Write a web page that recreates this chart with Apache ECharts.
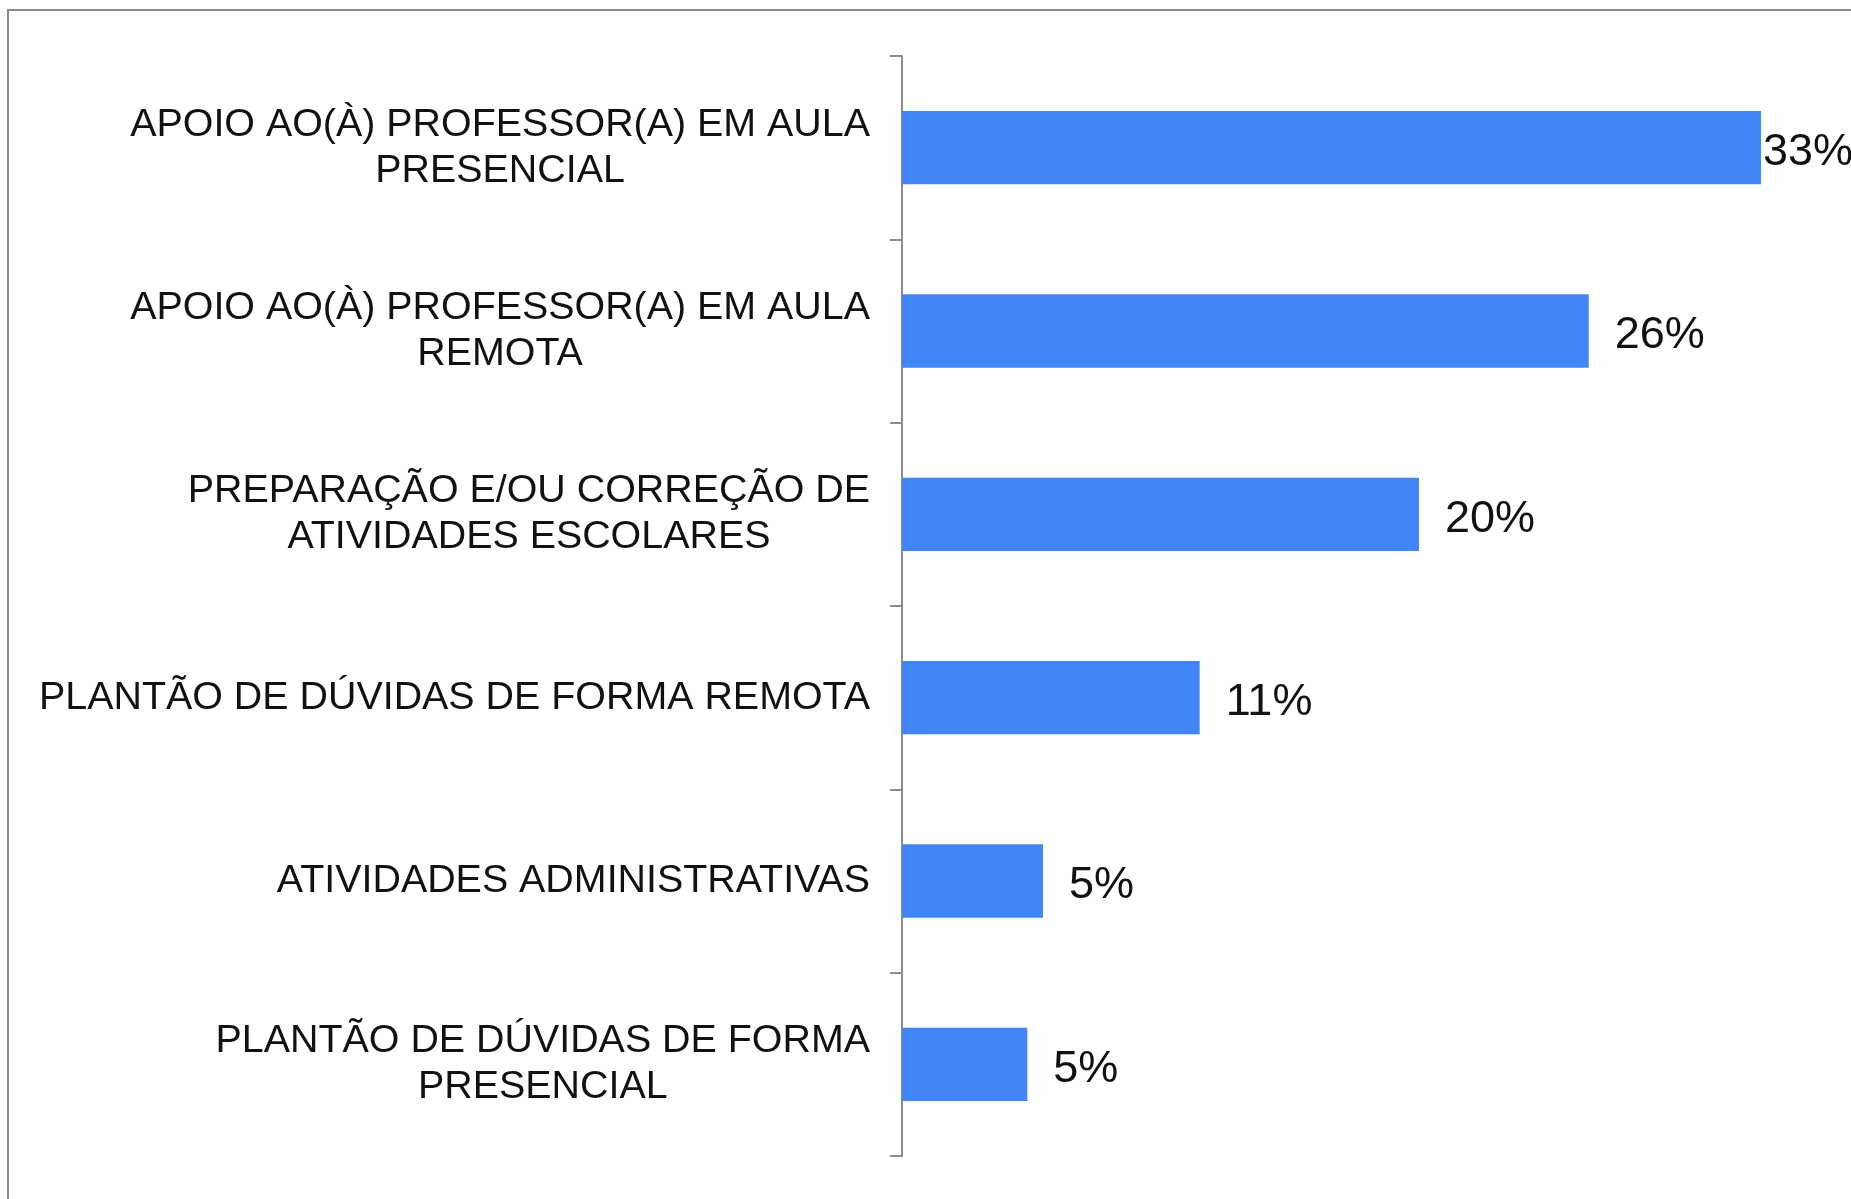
<!DOCTYPE html>
<html>
<head>
<meta charset="utf-8">
<title>Atividades</title>
<script src="https://cdn.jsdelivr.net/npm/echarts@6/dist/echarts.min.js"></script>
<style>
  html, body { margin: 0; padding: 0; background: #fff; }
  #chart { width: 1851px; height: 1199px; }
</style>
</head>
<body>
<div id="chart"></div>
<script>
const categories = [
  'APOIO AO(À) PROFESSOR(A) EM AULA\nPRESENCIAL',
  'APOIO AO(À) PROFESSOR(A) EM AULA\nREMOTA',
  'PREPARAÇÃO E/OU CORREÇÃO DE\nATIVIDADES ESCOLARES',
  'PLANTÃO DE DÚVIDAS DE FORMA REMOTA',
  'ATIVIDADES ADMINISTRATIVAS',
  'PLANTÃO DE DÚVIDAS DE FORMA\nPRESENCIAL'
]
// percent values (labels show rounded)
const values = [32.9, 26.3, 19.8, 11.4, 5.4, 4.8]

const font = "'Liberation Sans', Arial, sans-serif"

const chart = echarts.init(document.getElementById('chart'))
const option = {
  backgroundColor: '#fff',
  animation: false,
  graphic: [
    {
      type: 'rect',
      shape: { x: 8, y: 10, width: 1900, height: 1300 },
      style: { fill: 'none', stroke: '#8a8a8a', lineWidth: 2 },
      silent: true
    }
  ],
  grid: {
    left: 902,
    right: 9,
    top: 56,
    bottom: 43
  },
  xAxis: {
    type: 'value',
    min: 0,
    max: 36,
    show: false
  },
  yAxis: {
    type: 'category',
    inverse: true,
    data: categories,
    axisLine: { show: true, lineStyle: { color: '#8c8c8c', width: 2 } },
    axisTick: { show: true, length: 12, interval: 0, alignWithLabel: false, lineStyle: { color: '#8c8c8c', width: 2 } },
    axisLabel: {
      margin: 32,
      interval: 0,
      formatter: function (v) {
        return v.split('\n').map(function (s) { return '{c|' + s + '}' }).join('\n')
      },
      rich: {
        c: {
          align: 'center',
          fontFamily: font,
          fontSize: 39.4,
          lineHeight: 46,
          color: '#111'
        }
      }
    }
  },
  series: [
    {
      type: 'bar',
      barWidth: '40%',
      data: values.map(function (v, i) {
        const item = { value: v }
        if (i === 0) item.label = { distance: 2 }
        return item
      }),
      itemStyle: { color: '#4285F4' },
      label: {
        show: true,
        position: 'right',
        distance: 26,
        offset: [0, 5],
        fontFamily: font,
        fontSize: 45,
        color: '#111',
        formatter: function (p) { return Math.round(p.value) + '%' }
      }
    }
  ]
}
chart.setOption(option)
</script>
</body>
</html>
